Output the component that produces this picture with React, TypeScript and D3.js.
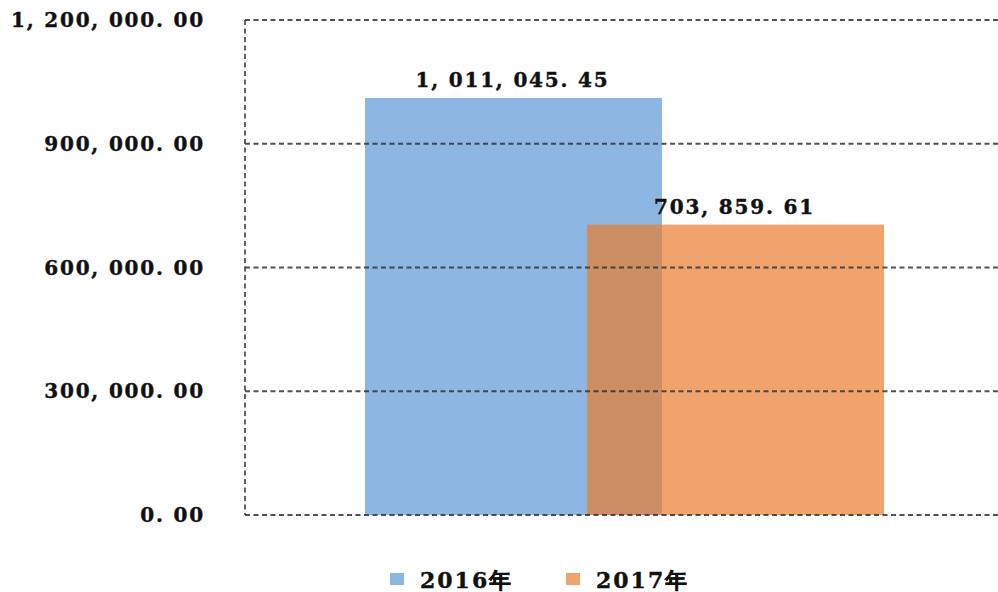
import React from "react";
import * as d3 from "d3";

const series = ["2016年", "2017年"];
const values = [1011045.45, 703859.61];
const colors = ["#8DB6E2", "#EA7D2D"];
const opacities = [1, 0.7];
const yTicks = [0, 300000, 600000, 900000, 1200000];

const W = 998;
const H = 592;
const left = 245;
const right = 998;
const top = 20;
const bottom = 515;

const fmt = (v: number) => {
  const s = d3.format(",.2f")(v);
  return s.replace(/,/g, ", ").replace(".", ". ");
};

export default function App() {
  const y = d3.scaleLinear().domain([0, 1200000]).range([bottom, top]);
  const x = d3.scalePoint<string>().domain(series).range([513.5, 735.5]);
  const bw = 297;
  const font = "'DejaVu Serif', serif";
  const textProps = {
    fontFamily: font,
    fontWeight: "bold" as const,
    fill: "#111",
    stroke: "#111",
    strokeWidth: 0.4,
  };
  return (
    <svg width={W} height={H} style={{ position: "absolute", left: 0, top: 0, background: "#fff" }}>
      {series.map((s, i) => (
        <rect
          key={s}
          x={(x(s) as number) - bw / 2}
          y={y(values[i])}
          width={bw}
          height={bottom - y(values[i])}
          fill={colors[i]}
          fillOpacity={opacities[i]}
        />
      ))}
      {yTicks.map((t) => (
        <line
          key={t}
          x1={left}
          x2={right}
          y1={y(t)}
          y2={y(t)}
          stroke="#333"
          strokeWidth={1.8}
          strokeDasharray="5,3.5"
          opacity={0.85}
        />
      ))}
      <line x1={left} x2={left} y1={top} y2={bottom} stroke="#333" strokeWidth={1.8} strokeDasharray="5,3.5" opacity={0.85} />
      {yTicks.map((t) => (
        <text
          key={"l" + t}
          x={205}
          y={y(t) + 7}
          textAnchor="end"
          fontSize={20}
          letterSpacing={1.8}
          {...textProps}
        >
          {fmt(t)}
        </text>
      ))}
      {series.map((s, i) => (
        <text
          key={"v" + s}
          x={(x(s) as number) - 1}
          y={y(values[i]) - 11}
          textAnchor="middle"
          fontSize={20}
          letterSpacing={1.8}
          {...textProps}
        >
          {fmt(values[i])}
        </text>
      ))}
      {series.map((s, i) => {
        const lx = 390 + i * 176;
        return (
          <g key={"lg" + s}>
            <rect x={lx} y={573} width={14} height={12} fill={colors[i]} fillOpacity={opacities[i]} />
            <text x={lx + 30} y={588} fontSize={22} letterSpacing={2} {...textProps}>
              {s}
            </text>
          </g>
        );
      })}
    </svg>
  );
}
